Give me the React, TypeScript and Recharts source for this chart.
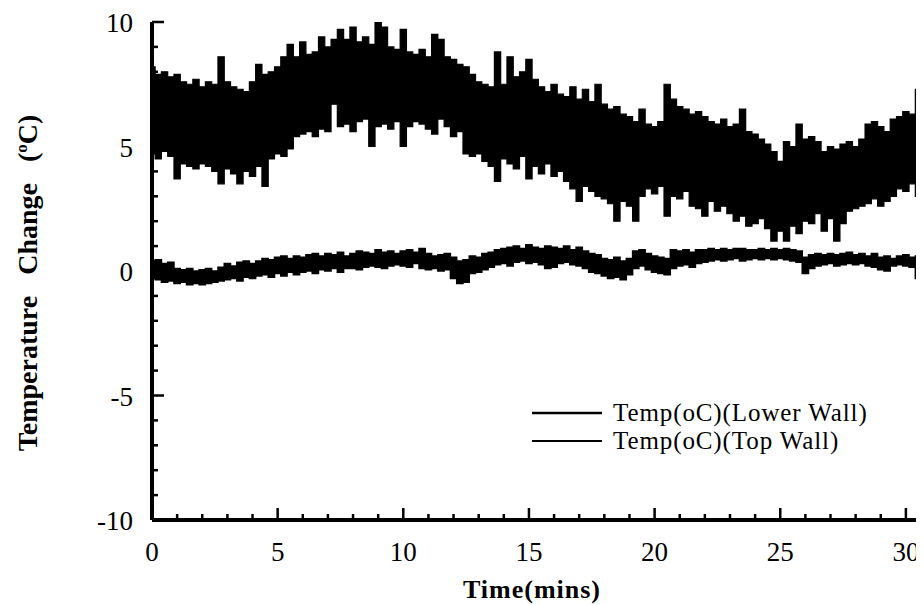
import React from "react";
import { ComposedChart, Area, XAxis, YAxis, Legend } from "recharts";

const SERIF = '"Liberation Serif", "Times New Roman", serif';

// readings every quarter minute
const SAMPLE_STEP = 0.25;

// upper noisy band: min / max of each quarter-minute window (one row = one minute)
const lowerWallHigh = [
  8.2, 7.9, 8.0, 7.8,
  7.9, 7.6, 7.5, 7.7,
  7.4, 7.6, 7.5, 8.6,
  7.6, 7.4, 7.3, 7.2,
  7.6, 8.3, 7.9, 8.0,
  8.2, 8.6, 9.1, 8.6,
  9.2, 8.7, 8.8, 9.4,
  9.0, 9.3, 9.7, 9.3,
  9.8, 9.2, 9.4, 9.1,
  10.0, 9.8, 9.0, 8.9,
  9.7, 8.8, 8.7, 8.9,
  8.6, 9.5, 9.3, 8.6,
  8.5, 8.3, 8.2, 7.9,
  7.6, 7.5, 7.4, 8.8,
  7.5, 8.6, 7.8, 8.0,
  8.5, 7.7, 7.4, 7.2,
  7.5, 7.1, 7.0, 7.4,
  6.9, 7.3, 6.8, 7.5,
  6.7, 6.5, 6.6, 6.3,
  6.2, 6.0, 6.5, 5.9,
  5.8, 6.0, 7.5, 6.9,
  6.6, 6.5, 6.3, 6.4,
  6.2, 6.0, 5.9, 6.1,
  5.8, 5.9, 6.5, 5.6,
  5.5, 5.3, 5.1, 4.8,
  4.4, 5.2, 5.0, 5.9,
  5.3, 5.4, 5.2, 4.8,
  5.0, 4.9, 5.1, 5.2,
  5.0, 5.3, 5.9, 6.0,
  5.8, 5.6, 6.1, 6.2,
  6.4, 6.3, 7.3, 6.6,
];

const lowerWallLow = [
  4.7, 4.5, 4.8, 4.6,
  3.7, 4.3, 4.2, 4.1,
  4.3, 4.2, 4.0, 3.5,
  4.1, 3.9, 3.5, 4.0,
  3.8, 4.2, 3.4, 4.5,
  4.7, 4.6, 4.9, 5.4,
  5.5, 5.6, 5.4, 5.7,
  5.6, 6.7, 5.8, 5.9,
  5.6, 6.0, 6.1, 5.0,
  5.8, 5.9, 5.7, 6.0,
  5.0, 5.8, 6.0, 5.9,
  5.7, 5.5, 6.1, 5.8,
  5.4, 5.6, 4.7, 4.6,
  4.7, 4.4, 4.2, 3.6,
  4.5, 4.3, 4.1, 4.6,
  3.7, 4.2, 3.9, 4.3,
  3.8, 4.0, 3.6, 3.3,
  2.8, 3.4, 3.2, 3.0,
  2.9, 2.7, 2.0, 2.8,
  2.6, 2.0, 3.0, 3.3,
  3.1, 3.4, 2.2, 3.0,
  2.9, 3.2, 2.6, 2.5,
  2.2, 2.8, 2.4, 2.6,
  2.3, 2.0, 2.2, 1.8,
  1.9, 2.1, 1.7, 1.2,
  1.6, 1.2, 1.8, 1.5,
  2.0, 1.9, 2.3, 1.6,
  2.1, 1.2, 1.9, 2.4,
  2.5, 2.6, 2.7, 2.9,
  2.6, 2.8, 3.0, 3.3,
  3.2, 3.5, 3.0, 3.4,
];

// lower band near zero
const topWallHigh = [
  0.4, 0.45, 0.3, 0.35,
  0.1, 0.05, 0.1, 0.0,
  0.05, 0.1, 0.0, 0.15,
  0.3, 0.2, 0.35, 0.4,
  0.3, 0.4, 0.5, 0.45,
  0.55, 0.6, 0.5, 0.6,
  0.55, 0.65, 0.7, 0.6,
  0.7, 0.65, 0.75, 0.6,
  0.7, 0.8, 0.75, 0.7,
  0.85, 0.75, 0.8, 0.7,
  0.8, 0.85, 0.75, 0.9,
  0.7, 0.6, 0.65, 0.7,
  0.55, 0.4, 0.45, 0.6,
  0.55, 0.7, 0.75, 0.85,
  0.9, 0.95, 1.0, 0.9,
  1.05, 0.95, 0.9, 1.0,
  0.95, 0.9, 1.0, 0.85,
  0.95, 0.8, 0.7, 0.65,
  0.5, 0.45, 0.55, 0.4,
  0.5, 0.8, 0.85, 0.7,
  0.6, 0.55, 0.5, 0.85,
  0.8, 0.85, 0.75, 0.85,
  0.85, 0.9, 0.85, 0.9,
  0.85, 0.9, 0.9, 0.85,
  0.85, 0.9, 0.85, 0.9,
  0.85, 0.9, 0.85, 0.8,
  0.55, 0.65, 0.7, 0.65,
  0.7, 0.65, 0.7, 0.75,
  0.65, 0.7, 0.6, 0.7,
  0.55, 0.6, 0.5, 0.6,
  0.65, 0.55, 0.6, 0.5,
];

const topWallLow = [
  -0.3, -0.35, -0.45, -0.4,
  -0.5, -0.45, -0.55, -0.5,
  -0.55, -0.5, -0.45, -0.4,
  -0.35, -0.3, -0.4, -0.25,
  -0.3, -0.2, -0.15, -0.25,
  -0.1, -0.2, -0.05, -0.15,
  -0.05, 0.0, -0.1, 0.05,
  0.0, 0.1, -0.05, 0.1,
  0.1, 0.05, 0.15, 0.2,
  0.15, 0.1, 0.2, 0.25,
  0.2, 0.15, 0.3, 0.1,
  0.05, 0.1, 0.0, 0.05,
  -0.3, -0.5, -0.45, -0.1,
  -0.05, 0.05, 0.15, 0.25,
  0.3, 0.2, 0.35, 0.4,
  0.3, 0.35, 0.25, 0.1,
  0.15, 0.3, 0.35, 0.25,
  0.2, 0.1, -0.05, -0.1,
  -0.2, -0.3, -0.25, -0.35,
  -0.15, 0.1, 0.2, 0.05,
  -0.05, -0.1, -0.15, 0.1,
  0.2, 0.25, 0.15, 0.3,
  0.35, 0.4, 0.45, 0.4,
  0.45, 0.5, 0.4, 0.45,
  0.5, 0.45, 0.5, 0.45,
  0.5, 0.45, 0.4, 0.35,
  -0.1, 0.1, 0.2, 0.25,
  0.3, 0.2, 0.25, 0.3,
  0.25, 0.3, 0.2, 0.15,
  0.05, 0.0, 0.2, 0.25,
  0.2, 0.15, -0.3, 0.2,
];

const xTicks = [0, 1, 2, 3, 4, 5, 6, 7, 8, 9, 10, 11, 12, 13, 14, 15, 16, 17, 18, 19, 20, 21, 22, 23, 24, 25, 26, 27, 28, 29, 30];
const yTicks = [-10, -9, -8, -7, -6, -5, -4, -3, -2, -1, 0, 1, 2, 3, 4, 5, 6, 7, 8, 9, 10];

const data = lowerWallHigh.map((hi, i) => ({
  time: i * SAMPLE_STEP,
  lower: [lowerWallLow[i], hi],
  top: [topWallLow[i], topWallHigh[i]],
}));

const isMajor = (v: number) => v % 5 === 0;
const textStyle = { fontFamily: SERIF };

// ticks point into the plot, like the original
function BottomTick({ x, y, payload }: any) {
  const v = payload.value;
  return (
    <g>
      <line x1={x} x2={x} y1={y} y2={y - (isMajor(v) ? 12 : 6)} stroke="#000" strokeWidth={2.5} />
      {isMajor(v) && (
        <text x={x} y={y + 41} textAnchor="middle" style={textStyle} fontSize={27} fill="#000">
          {v}
        </text>
      )}
    </g>
  );
}

function TopTick({ x, y, payload }: any) {
  const v = payload.value;
  return <line x1={x} x2={x} y1={y} y2={y + (isMajor(v) ? 12 : 6)} stroke="#000" strokeWidth={2.5} />;
}

function LeftTick({ x, y, payload }: any) {
  const v = payload.value;
  return (
    <g>
      <line x1={x} x2={x + (isMajor(v) ? 12 : 6)} y1={y} y2={y} stroke="#000" strokeWidth={2.5} />
      {isMajor(v) && (
        <text x={x - 19} y={y + 10} textAnchor="end" style={textStyle} fontSize={27} fill="#000">
          {v}
        </text>
      )}
    </g>
  );
}

function RightTick({ x, y, payload }: any) {
  const v = payload.value;
  return <line x1={x} x2={x - (isMajor(v) ? 12 : 6)} y1={y} y2={y} stroke="#000" strokeWidth={2.5} />;
}

function WallLegend({ payload }: any) {
  const items = payload || [];
  return (
    <svg width={380} height={70} style={{ display: "block" }}>
      {items.map((item: any, i: number) => (
        <g key={item.value}>
          <line x1={0} x2={70} y1={19 + i * 28} y2={19 + i * 28} stroke="#000" strokeWidth={i === 0 ? 2.5 : 1.8} />
          <text x={81} y={27 + i * 28} style={textStyle} fontSize={25} letterSpacing={0.9} fill="#000">
            {item.value}
          </text>
        </g>
      ))}
    </svg>
  );
}

export default function App() {
  return (
    <div style={{ width: 916, height: 597, overflow: "hidden" }}>
      <ComposedChart width={920} height={597} data={data} margin={{ top: 14, right: 2, bottom: 0, left: 0 }}>
        <XAxis
          dataKey="time"
          type="number"
          domain={[0, 30.8]}
          allowDataOverflow
          ticks={xTicks}
          interval={0}
          height={85}
          tickSize={0}
          tickMargin={0}
          tickLine={false}
          axisLine={{ stroke: "#000", strokeWidth: 4 }}
          tick={<BottomTick />}
          label={{
            content: ({ viewBox }: any) => (
              <text
                x={viewBox.x + viewBox.width / 2 - 7}
                y={viewBox.y + 78}
                textAnchor="middle"
                style={textStyle}
                fontWeight="bold"
                fontSize={26}
                letterSpacing={1}
                fill="#000"
              >
                Time(mins)
              </text>
            ),
          }}
        />
        <XAxis
          xAxisId="top"
          dataKey="time"
          type="number"
          orientation="top"
          domain={[0, 30.8]}
          allowDataOverflow
          ticks={xTicks}
          interval={0}
          height={0}
          tickSize={0}
          tickMargin={0}
          tickLine={false}
          axisLine={{ stroke: "#000", strokeWidth: 3 }}
          tick={<TopTick />}
        />
        <YAxis
          type="number"
          domain={[-10, 10]}
          allowDataOverflow
          ticks={yTicks}
          interval={0}
          width={144}
          tickSize={0}
          tickMargin={0}
          tickLine={false}
          axisLine={{ stroke: "#000", strokeWidth: 4 }}
          tick={<LeftTick />}
          label={{
            content: ({ viewBox }: any) => {
              const cx = 29;
              const cy = viewBox.y + viewBox.height / 2 + 12;
              return (
                <text
                  x={cx}
                  y={cy}
                  transform={`rotate(-90, ${cx}, ${cy})`}
                  textAnchor="middle"
                  style={textStyle}
                  fontWeight="bold"
                  fontSize={28}
                  wordSpacing={14}
                  fill="#000"
                >
                  Temperature Change (
                  <tspan dy={-10} fontSize={17}>o</tspan>
                  <tspan dy={10}>C)</tspan>
                </text>
              );
            },
          }}
        />
        <YAxis
          yAxisId="right"
          orientation="right"
          type="number"
          domain={[-10, 10]}
          allowDataOverflow
          ticks={yTicks}
          interval={0}
          width={0}
          tickSize={0}
          tickMargin={0}
          tickLine={false}
          axisLine={{ stroke: "#000", strokeWidth: 3 }}
          tick={<RightTick />}
        />
        <Legend
          layout="horizontal"
          verticalAlign="middle"
          align="center"
          content={<WallLegend />}
          wrapperStyle={{ position: "absolute", left: 524, top: 386, width: 380 }}
        />
        <Area
          name="Temp(oC)(Lower Wall)"
          dataKey="lower"
          type="step"
          stroke="#000"
          strokeWidth={1.2}
          fill="#000"
          fillOpacity={1}
          isAnimationActive={false}
        />
        <Area
          name="Temp(oC)(Top Wall)"
          dataKey="top"
          type="step"
          stroke="#000"
          strokeWidth={1.5}
          fill="#000"
          fillOpacity={1}
          isAnimationActive={false}
        />
      </ComposedChart>
    </div>
  );
}
